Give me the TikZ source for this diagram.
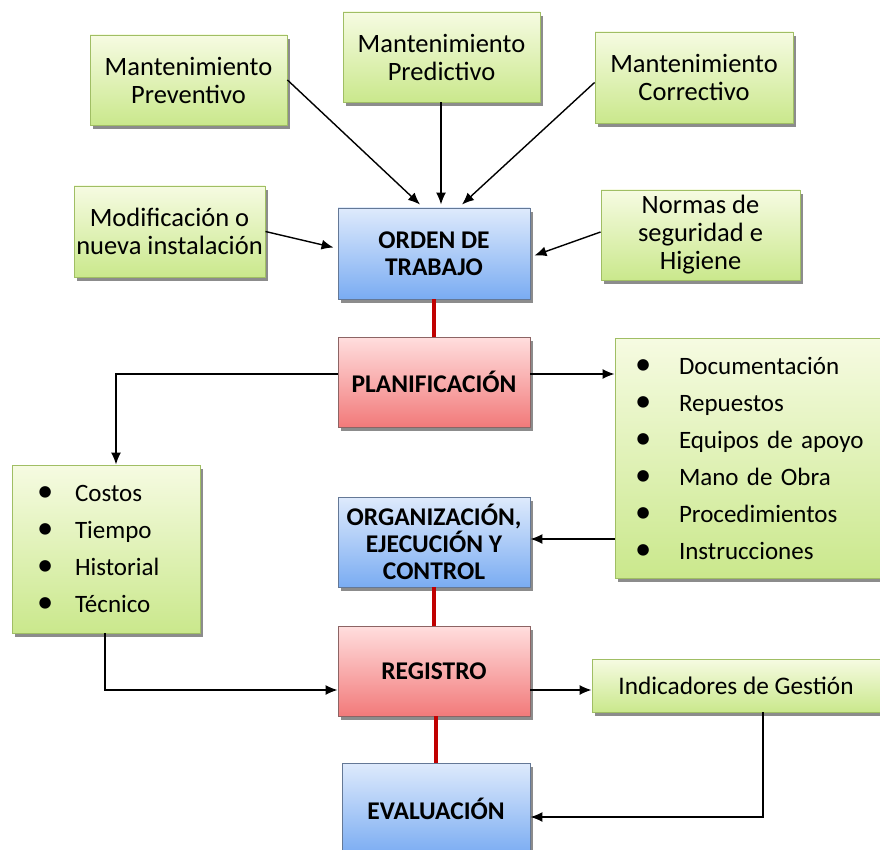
\documentclass[tikz,border=0pt]{standalone}
\usepackage{fontspec}
\setmainfont{Carlito}
\usetikzlibrary{arrows.meta,shadows}

\definecolor{grnT}{RGB}{246,251,226}
\definecolor{grnB}{RGB}{202,232,140}
\definecolor{grnD}{RGB}{160,190,100}
\definecolor{bluT}{RGB}{222,234,252}
\definecolor{bluB}{RGB}{122,172,242}
\definecolor{bluD}{RGB}{100,120,150}
\definecolor{redT}{RGB}{255,222,222}
\definecolor{redB}{RGB}{242,122,122}
\definecolor{redD}{RGB}{140,100,100}
\definecolor{linkred}{RGB}{192,0,0}

\tikzset{
  box/.style={rectangle, line width=0.9pt, align=center, inner sep=2pt,
    drop shadow={shadow xshift=3pt, shadow yshift=-4pt, fill=black, opacity=0.45}},
  greenbox/.style={box, draw=grnD, top color=grnT, bottom color=grnB,
    font=\fontsize{26.5}{28}\selectfont},
  bluebox/.style={box, draw=bluD, top color=bluT, bottom color=bluB,
    font=\bfseries\fontsize{25.5}{27}\selectfont},
  redbox/.style={box, draw=redD, top color=redT, bottom color=redB,
    font=\bfseries\fontsize{25.5}{27}\selectfont},
  listbox/.style={box, draw=grnD, top color=grnT, bottom color=grnB,
    font=\fontsize{25}{37}\selectfont, align=left},
  arr/.style={-{Latex[length=12pt,width=10pt]}, line width=1.4pt},
  link/.style={line width=4pt, draw=linkred},
}
\newcommand{\itm}[2][44pt]{\makebox[#1][l]{\scalebox{1.3}{\textbullet}}#2}

\begin{document}
\begin{tikzpicture}[x=1pt,y=-1pt]
\useasboundingbox (0,0) rectangle (880,850);

% input boxes
\node[greenbox, minimum width=197pt, minimum height=90pt] (prev) at (188.5,80) {Mantenimiento\\Preventivo};
\node[greenbox, minimum width=197pt, minimum height=90pt] (pred) at (441.5,57) {Mantenimiento\\Predictivo};
\node[greenbox, minimum width=198pt, minimum height=91pt] (corr) at (694,77.5) {Mantenimiento\\Correctivo};
\node[greenbox, minimum width=191pt, minimum height=91pt] (modi) at (169.5,231.5) {Modificación o\\nueva instalación};
\node[greenbox, minimum width=199pt, minimum height=90pt] (norm) at (700.5,235) {Normas de\\seguridad e\\Higiene};

% main process
\node[bluebox, minimum width=192pt, minimum height=91pt] (orden) at (434,253.5) {ORDEN DE\\TRABAJO};
\node[redbox, minimum width=192pt, minimum height=90pt] (plan) at (434,382) {PLANIFICACIÓN};
\node[bluebox, minimum width=192pt, minimum height=90pt] (org) at (434,542) {ORGANIZACIÓN,\\EJECUCIÓN Y\\CONTROL};
\node[redbox, minimum width=192pt, minimum height=90pt] (reg) at (434,671) {REGISTRO};
\node[bluebox, minimum width=188pt, minimum height=92pt] (eval) at (436,809) {EVALUACIÓN};

% lists
\node[listbox, minimum width=269pt, minimum height=240pt, text width=229pt] (rlist) at (749.5,458)
  {\itm{Documentación}\\\itm{Repuestos}\\\itm{Equipos de apoyo}\\\itm{Mano de Obra}\\\itm{Procedimientos}\\\itm{Instrucciones}};
\node[listbox, minimum width=188pt, minimum height=168pt, text width=138pt] (llist) at (106,549)
  {\itm[38pt]{Costos}\\\itm[38pt]{Tiempo}\\\itm[38pt]{Historial}\\\itm[38pt]{Técnico}};
\node[greenbox, font=\fontsize{25.3}{28}\selectfont, minimum width=288pt, minimum height=53pt] (ind) at (736,685.5) {Indicadores de Gestión};

% links of the main chain
\draw[link] (orden.south) -- (plan.north);
\draw[link] (org.south) -- (reg.north);
\draw[link] (reg.south -| eval.north) -- (eval.north);

% arrows into the work order
\draw[arr] (prev.east) -- ([xshift=-14pt,yshift=3pt]orden.north);
\draw[arr] ([xshift=7pt]orden.north |- pred.south) -- ([xshift=7pt,yshift=3pt]orden.north);
\draw[arr] ([yshift=-5pt]corr.west) -- ([xshift=28pt,yshift=3pt]orden.north);
\draw[arr] (modi.east) -- ([xshift=-4pt,yshift=6pt]orden.west);
\draw[arr] ([yshift=3pt]norm.west) -- ([xshift=4pt,yshift=-2pt]orden.east);

% planning outputs
\coordinate (pl) at ([yshift=8pt]plan.west);
\coordinate (pr) at ([yshift=8pt]plan.east);
\draw[arr] (pl) -| ([xshift=10pt]llist.north);
\draw[arr] (pr) -- (pr -| rlist.west);

% resources into execution
\coordinate (oe) at ([yshift=3pt]org.east);
\draw[arr] (oe -| rlist.west) -- (oe);

% records
\coordinate (rw) at ([yshift=-19pt]reg.west);
\coordinate (re) at ([yshift=-19pt]reg.east);
\draw[arr] ([xshift=-1pt]llist.south) |- (rw);
\draw[arr] (re) -- (re -| ind.west);

% feedback to evaluation
\coordinate (ee) at ([yshift=-8pt]eval.east);
\draw[arr] ([xshift=27pt]ind.south) |- (ee);
\end{tikzpicture}
\end{document}
